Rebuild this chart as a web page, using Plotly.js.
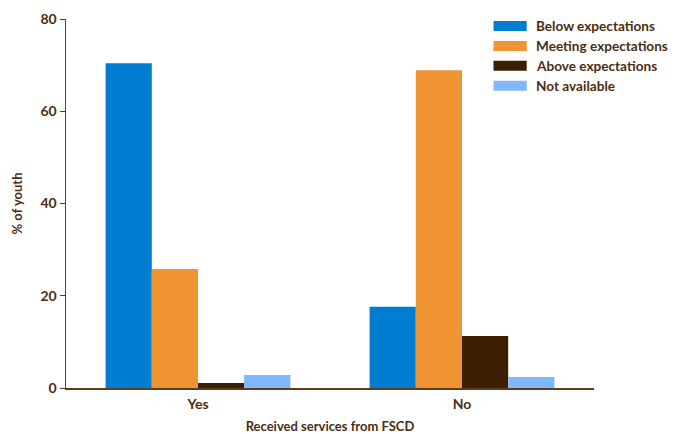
<!DOCTYPE html>
<html>
<head>
<meta charset="utf-8">
<script src="https://cdn.plot.ly/plotly-3.0.1.min.js"></script>
<style>html,body{margin:0;padding:0;background:#fff}#chart{width:680px;height:434px}</style>
</head>
<body>
<div id="chart"></div>
<script>
const categories = ["Yes", "No"];
const seriesNames = ["Below expectations", "Meeting expectations", "Above expectations", "Not available"];
const belowExpectations = [70.4, 17.6];
const meetingExpectations = [25.8, 68.9];
const aboveExpectations = [1.1, 11.3];
const notAvailable = [2.8, 2.4];
const yTicks = [0, 20, 40, 60, 80];

const seriesValues = [belowExpectations, meetingExpectations, aboveExpectations, notAvailable];
const colors = ["#007DD0", "#F09433", "#3B1F00", "#80B8FF"];
const textColor = "#4A2E14";
const axisColor = "#5C3D1E";
const fontFamily = "Lato, 'Open Sans', 'DejaVu Sans', sans-serif";

const W = 680, H = 434;
const M = {l: 66, r: 86, t: 19, b: 46};
const plotW = W - M.l - M.r, plotH = H - M.t - M.b;
const px2x = p => (p - M.l) / plotW;
const px2y = p => (H - M.b - p) / plotH;

const traces = seriesValues.map((vals, i) => ({
  type: "bar",
  name: seriesNames[i],
  x: categories,
  y: vals,
  marker: {color: colors[i], line: {width: 0}},
  hoverinfo: "none",
  showlegend: false
}));

// Custom legend (wide swatches like the original)
const legendShapes = [], legendAnnots = [];
const legTop = 26, legStep = 19.9, swL = 493.5, swR = 526.7, swH = 10, textX = 533.5;
seriesNames.forEach((name, i) => {
  const cy = legTop + i * legStep;
  legendShapes.push({
    type: "rect", xref: "paper", yref: "paper",
    x0: px2x(swL), x1: px2x(swR), y0: px2y(cy + swH / 2), y1: px2y(cy - swH / 2),
    fillcolor: colors[i], line: {width: 0}
  });
  legendAnnots.push({
    xref: "paper", yref: "paper", x: px2x(textX), y: px2y(cy),
    xanchor: "left", yanchor: "middle", showarrow: false, text: name,
    font: {family: fontFamily, size: 13.6, color: textColor, weight: "bold"}
  });
});

const layout = {
  width: W,
  height: H,
  margin: M,
  paper_bgcolor: "#fff",
  plot_bgcolor: "#fff",
  barmode: "group",
  bargap: 0.3,
  bargroupgap: 0,
  font: {family: fontFamily, color: textColor, size: 13},
  showlegend: false,
  shapes: legendShapes,
  annotations: legendAnnots,
  xaxis: {
    type: "category",
    showline: true, linecolor: axisColor, linewidth: 1.5,
    ticks: "", showgrid: false, zeroline: false,
    ticklabelstandoff: 3,
    tickfont: {family: fontFamily, size: 14, color: textColor, weight: "bold"},
    title: {text: "Received services from FSCD", font: {family: fontFamily, size: 13, color: textColor, weight: "bold"}, standoff: 24}
  },
  yaxis: {
    range: [0, 80],
    tickvals: yTicks,
    ticktext: yTicks.map(String),
    showline: true, linecolor: axisColor, linewidth: 1.5,
    ticks: "outside", ticklen: 5, tickcolor: axisColor, tickwidth: 1,
    showgrid: false, zeroline: false,
    tickfont: {family: fontFamily, size: 14, color: textColor, weight: "bold"},
    title: {text: "% of youth", font: {family: fontFamily, size: 13, color: textColor, weight: "bold"}, standoff: 15}
  }
};

Plotly.newPlot("chart", traces, layout, {displayModeBar: false, staticPlot: true});
</script>
</body>
</html>
